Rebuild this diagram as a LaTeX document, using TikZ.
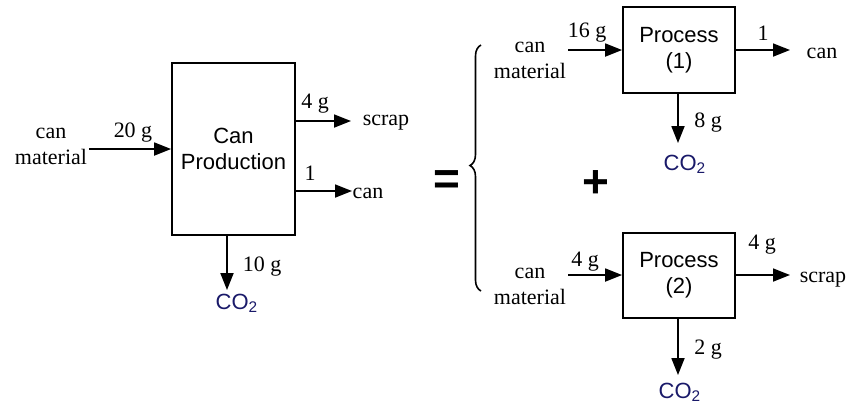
\documentclass[tikz,border=0pt]{standalone}
\usepackage{fontspec}
\setmainfont{Liberation Serif}
\setsansfont{Liberation Sans}
\usetikzlibrary{arrows.meta,decorations.pathreplacing}
\definecolor{co2blue}{RGB}{25,25,105}
\tikzset{
  procbox/.style={draw, line width=0.9pt, font=\sffamily\fontsize{11}{13}\selectfont, align=center, inner sep=0pt},
  flow/.style={line width=0.9pt, -{Triangle[length=8.5pt,width=6.5pt]}},
  lbl/.style={font=\fontsize{11}{13}\selectfont, align=center, inner sep=0pt},
  gas/.style={font=\sffamily\fontsize{11}{13}\selectfont, text=co2blue, inner sep=0pt},
  sign/.style={font=\sffamily\bfseries\fontsize{23}{23}\selectfont, inner sep=0pt}
}
\begin{document}
\begin{tikzpicture}[x=0.5pt,y=-0.5pt]
  \useasboundingbox (0,0) rectangle (853,404);
  % whole can production
  \node[procbox, minimum width=61.5pt, minimum height=86pt] (prod) at (233.5,149) {Can\\Production};
  \node[lbl] (matin) at (51,146) {can\\material};
  \coordinate (prodin) at (89,149);
  \draw[flow] (prodin) -- (prod.west |- prodin);
  \node[lbl] at (133,133) {20 g};
  \coordinate (prodscrap) at (351,121);
  \draw[flow] (prod.east |- prodscrap) -- (prodscrap);
  \node[lbl] at (315,104) {4 g};
  \node[lbl] (scrapout) at (386,123) {scrap};
  \coordinate (prodcan) at (352,191);
  \draw[flow] (prod.east |- prodcan) -- (prodcan);
  \node[lbl] at (310,173) {1};
  \node[lbl] (canout) at (368,193) {can};
  \coordinate (prodgas) at (227,290);
  \draw[flow] (prod.south -| prodgas) -- (prodgas);
  \node[lbl] at (262,267) {10 g};
  \node[gas] (prodco) at (237,303) {CO\textsubscript{2}};
  % equals, brace, plus
  \node[sign] (eq) at (447,183) {=};
  \node[sign] (plus) at (596,184) {+};
  \coordinate (bracelo) at (481,291);
  \coordinate (bracehi) at (481,45);
  \draw[line width=0.8pt, decorate, decoration={brace, amplitude=5.5pt, aspect=0.51}] (bracelo) -- (bracehi);
  % process (1)
  \node[procbox, minimum width=56pt, minimum height=43pt] (pone) at (679,50) {Process\\(1)};
  \node[lbl] (matone) at (530,60) {can\\material};
  \coordinate (onein) at (568,50);
  \draw[flow] (onein) -- (pone.west |- onein);
  \node[lbl] at (587,33) {16 g};
  \coordinate (onecan) at (790,50);
  \draw[flow] (pone.east |- onecan) -- (onecan);
  \node[lbl] at (763,33) {1};
  \node[lbl] (canone) at (822,53) {can};
  \coordinate (onegas) at (678,143);
  \draw[flow] (pone.south -| onegas) -- (onegas);
  \node[lbl] at (708,123) {8 g};
  \node[gas] (coone) at (685,164) {CO\textsubscript{2}};
  % process (2)
  \node[procbox, minimum width=56pt, minimum height=42.5pt] (ptwo) at (679,275.5) {Process\\(2)};
  \node[lbl] (mattwo) at (530,286) {can\\material};
  \coordinate (twoin) at (568,275);
  \draw[flow] (twoin) -- (ptwo.west |- twoin);
  \node[lbl] at (585,262) {4 g};
  \coordinate (twoscrap) at (790,275);
  \draw[flow] (ptwo.east |- twoscrap) -- (twoscrap);
  \node[lbl] at (762,245) {4 g};
  \node[lbl] (scraptwo) at (823,280) {scrap};
  \coordinate (twogas) at (678,375);
  \draw[flow] (ptwo.south -| twogas) -- (twogas);
  \node[lbl] at (708,350) {2 g};
  \node[gas] (cotwo) at (680,392) {CO\textsubscript{2}};
\end{tikzpicture}
\end{document}
